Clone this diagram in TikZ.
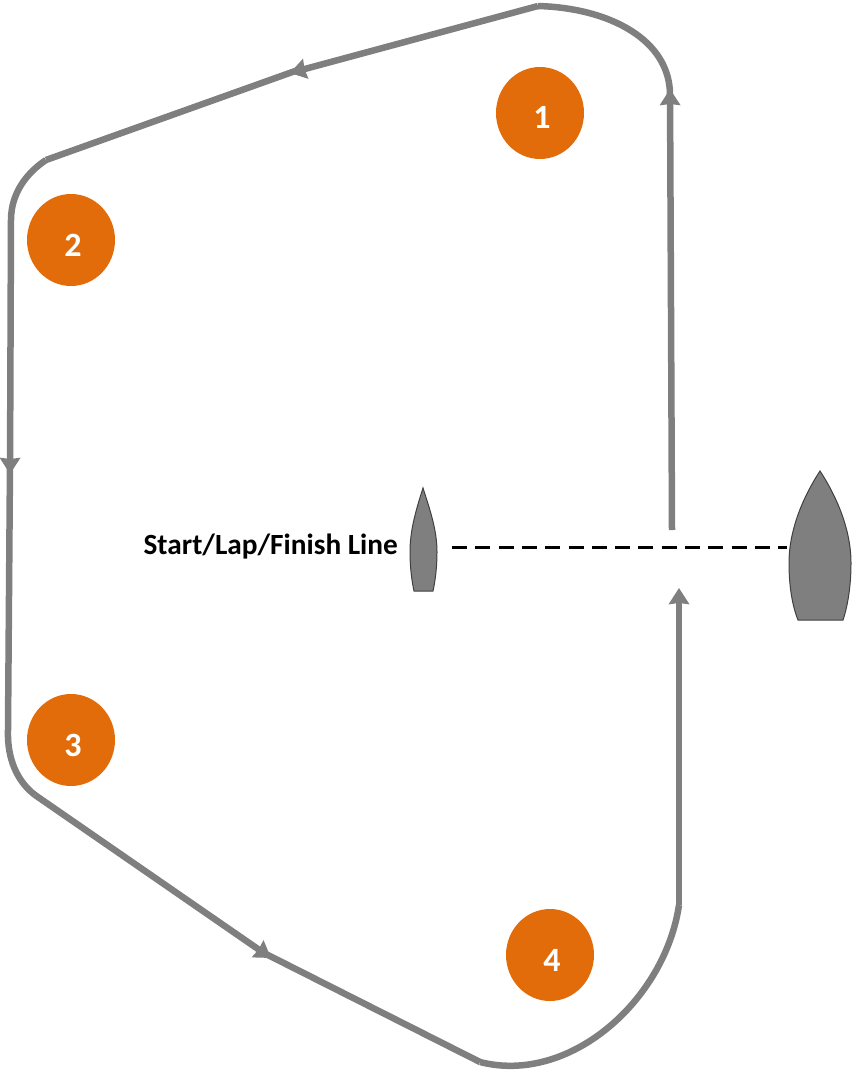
\documentclass[tikz,border=0pt]{standalone}
\usepackage{fontspec}
\setmainfont{Carlito}
\usepackage{xcolor}
\usetikzlibrary{shapes,shapes.geometric}
\usetikzlibrary{arrows.meta}
\definecolor{course}{HTML}{7F7F7F}
\definecolor{mark}{HTML}{E36C0A}
\tikzstyle{leg}=[draw=course,line width=6.5pt]
\tikzstyle{tip>}=[-{Stealth[length=16pt,width=20pt,inset=1pt]}]
\tikzstyle{buoy}=[ellipse,fill=mark,minimum width=88pt,minimum height=92pt,inner sep=0pt,text=white,font=\bfseries\fontsize{34}{34}\selectfont]
\tikzstyle{boat}=[draw=black!75,line width=1pt,fill=course]
\begin{document}
\begin{tikzpicture}[x=1pt,y=-1pt]
\useasboundingbox (0,0) rectangle (851,1070);
\foreach \n/\x/\y in {1/540/113,2/71/240,3/71/740,4/550/955} {
	\node[buoy] (buoy\n) at (\x,\y) {\hspace*{4pt}\raisebox{-16pt}[0pt][0pt]{\n}};
}
\coordinate (a0) at (672,530);
\coordinate (a1) at (670,89);
\coordinate (b0) at (538,6);
\coordinate (b1) at (290,73);
\coordinate (b2) at (298,70);
\coordinate (b3) at (46,160);
\coordinate (c0) at (11,220);
\coordinate (c1) at (10,474);
\coordinate (c2) at (10,462);
\coordinate (c3) at (8,730);
\coordinate (d0) at (35,795);
\coordinate (d1) at (271,958);
\coordinate (d2) at (262,952);
\coordinate (e0) at (480,1062);
\coordinate (e1) at (679,905);
\coordinate (e2) at (679,588);
\draw[leg,tip>] (a0) -- (a1);
\draw[leg] (670,95) .. controls (670,40) and (610,8) .. (b0);
\draw[leg,tip>] (b0) -- (b1);
\draw[leg] (b2) -- (b3);
\draw[leg] (b3) .. controls (28,172) and (11,192) .. (c0);
\draw[leg,tip>] (c0) -- (c1);
\draw[leg] (c2) -- (c3);
\draw[leg] (c3) .. controls (7,760) and (18,782) .. (d0);
\draw[leg,tip>] (d0) -- (d1);
\draw[leg] (d2) -- (e0);
\draw[leg] (e0) .. controls (570,1085) and (665,1000) .. (e1);
\draw[leg,tip>] (e1) -- (e2);
\draw[boat] (423,488) .. controls (416,510) and (410,530) .. (410,552) .. controls (410,568) and (412,582) .. (414,591) -- (433,591) .. controls (435,582) and (437,568) .. (437,552) .. controls (437,530) and (430,510) .. (423,488) -- cycle;
\draw[boat] (820,471) .. controls (803,497) and (789,530) .. (789,563) .. controls (789,585) and (792,605) .. (798,620) -- (843,620) .. controls (848,605) and (851,585) .. (851,563) .. controls (851,530) and (837,497) .. (820,471) -- cycle;
\coordinate (pinL) at (452,547);
\coordinate (pinR) at (787,547);
\draw[line width=3pt,dash pattern=on 15pt off 8.3pt] (pinL) -- (pinR);
\node[font=\bfseries\fontsize{29.3}{29.3}\selectfont,anchor=east,inner sep=0pt] (lineLabel) at (398,547) {Start/Lap/Finish Line};
\end{tikzpicture}
\end{document}
